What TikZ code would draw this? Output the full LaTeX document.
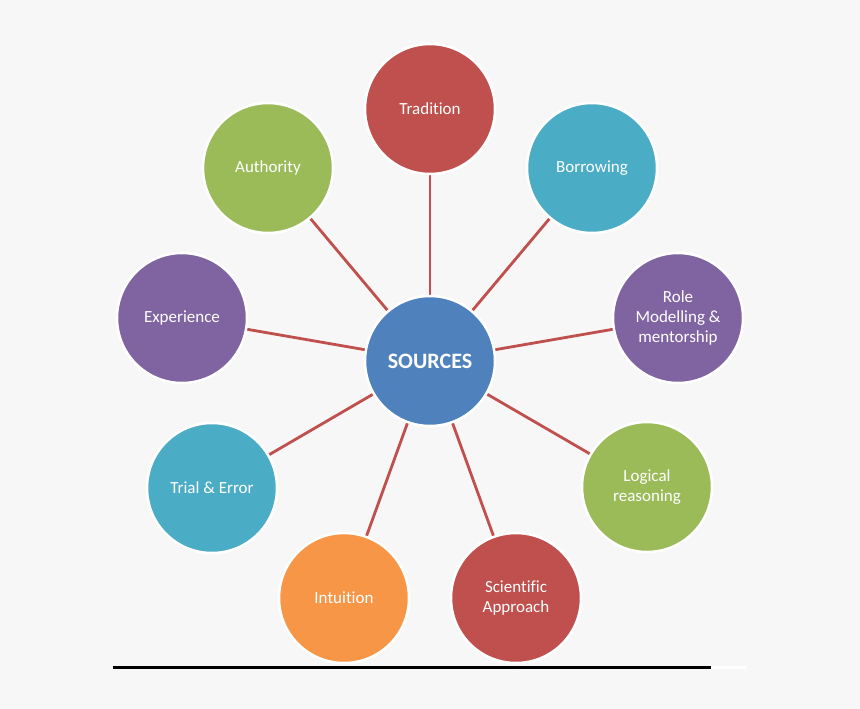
\documentclass[tikz,border=0pt]{standalone}
\usepackage{fontspec}
\setmainfont[Ligatures=NoCommon]{Carlito}
\definecolor{bg}{HTML}{F7F7F7}
\definecolor{cred}{HTML}{C0504D}
\definecolor{cblue}{HTML}{4F81BD}
\definecolor{cgreen}{HTML}{9BBB59}
\definecolor{cpurple}{HTML}{8064A2}
\definecolor{caqua}{HTML}{4BACC6}
\definecolor{corange}{HTML}{F79646}
\tikzset{
  bubble/.style={circle, draw=white, line width=2.5pt, minimum size=130pt, inner sep=0pt,
    text=white, align=center, font=\fontsize{17}{20}\selectfont},
  spoke/.style={draw=cred, line width=2.8pt}
}
\begin{document}
\begin{tikzpicture}[x=1pt,y=-1pt]
\fill[bg] (0,0) rectangle (860,709);
\useasboundingbox (0,0) rectangle (860,709);
\coordinate (c) at (430,361);
\coordinate (pT) at (430,109);
\coordinate (pB) at (592,168);
\coordinate (pR) at (678,318);
\coordinate (pL) at (647,487);
\coordinate (pS) at (516,598);
\coordinate (pI) at (344,598);
\coordinate (pTE) at (212,488);
\coordinate (pE) at (182,318);
\coordinate (pA) at (268,168);
\foreach \p in {pT,pB,pR,pL,pS,pI,pTE,pE,pA} \draw[spoke] (c) -- (\p);
\node[bubble, fill=cblue, font=\fontsize{22}{26}\selectfont\bfseries] (src) at (c) {SOURCES};
\node[bubble, fill=cred] (trad) at (pT) {Tradition};
\node[bubble, fill=caqua] (borr) at (pB) {Borrowing};
\node[bubble, fill=cpurple] (role) at (pR) {Role\\Modelling \&\\mentorship};
\node[bubble, fill=cgreen] (logi) at (pL) {Logical\\reasoning};
\node[bubble, fill=cred] (sci) at (pS) {Scientific\\Approach};
\node[bubble, fill=corange] (intu) at (pI) {Intuition};
\node[bubble, fill=caqua] (trial) at (pTE) {Trial \& Error};
\node[bubble, fill=cpurple] (expe) at (pE) {Experience};
\node[bubble, fill=cgreen] (auth) at (pA) {Authority};
\coordinate (l0) at (113,667);
\coordinate (l1) at (711,667);
\coordinate (l2) at (746,667);
\draw[line width=3pt, black] (l0) -- (l1);
\draw[line width=3pt, white] (l1) -- (l2);
\end{tikzpicture}
\end{document}
